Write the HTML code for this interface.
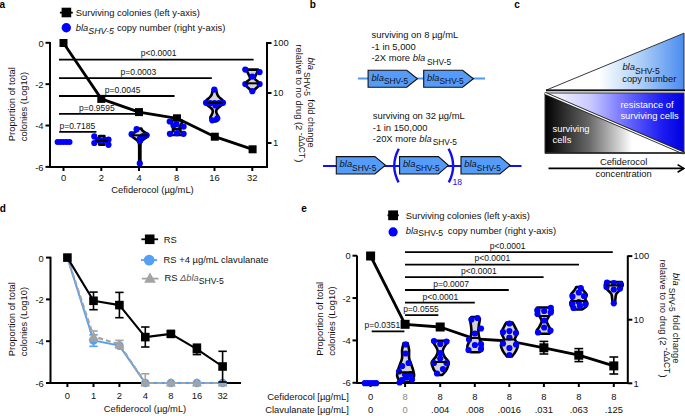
<!DOCTYPE html>
<html><head><meta charset="utf-8"><style>
html,body{margin:0;padding:0;background:#fff;}
svg{display:block;font-family:"Liberation Sans",sans-serif;}
</style></head><body>
<svg width="685" height="416" viewBox="0 0 685 416">
<rect width="685" height="416" fill="#fff"/>
<text x="-0.4" y="7.8" font-size="10" font-weight="bold" fill="#000">a</text>
<text x="309.8" y="8.4" font-size="10" font-weight="bold" fill="#000">b</text>
<text x="514.2" y="7.9" font-size="10" font-weight="bold" fill="#000">c</text>
<text x="-0.2" y="212.2" font-size="10" font-weight="bold" fill="#000">d</text>
<text x="301.2" y="212.2" font-size="10" font-weight="bold" fill="#000">e</text>
<path d="M50,42 V167 H267 V42" fill="none" stroke="#000" stroke-width="2"/>
<line x1="45.5" y1="42.8" x2="50" y2="42.8" stroke="#000" stroke-width="2" />
<text x="43.6" y="46.699999999999996" font-size="9.4" text-anchor="end" fill="#111" >0</text>
<line x1="45.5" y1="84.16" x2="50" y2="84.16" stroke="#000" stroke-width="2" />
<text x="43.6" y="88.06" font-size="9.4" text-anchor="end" fill="#111" >-2</text>
<line x1="45.5" y1="125.52" x2="50" y2="125.52" stroke="#000" stroke-width="2" />
<text x="43.6" y="129.42" font-size="9.4" text-anchor="end" fill="#111" >-4</text>
<line x1="45.5" y1="166.88" x2="50" y2="166.88" stroke="#000" stroke-width="2" />
<text x="43.6" y="170.78" font-size="9.4" text-anchor="end" fill="#111" >-6</text>
<line x1="63.5" y1="167" x2="63.5" y2="171" stroke="#000" stroke-width="2" />
<text x="63.5" y="180.6" font-size="9.4" text-anchor="middle" fill="#111" >0</text>
<line x1="101.3" y1="167" x2="101.3" y2="171" stroke="#000" stroke-width="2" />
<text x="101.3" y="180.6" font-size="9.4" text-anchor="middle" fill="#111" >2</text>
<line x1="139.0" y1="167" x2="139.0" y2="171" stroke="#000" stroke-width="2" />
<text x="139.0" y="180.6" font-size="9.4" text-anchor="middle" fill="#111" >4</text>
<line x1="176.7" y1="167" x2="176.7" y2="171" stroke="#000" stroke-width="2" />
<text x="176.7" y="180.6" font-size="9.4" text-anchor="middle" fill="#111" >8</text>
<line x1="214.5" y1="167" x2="214.5" y2="171" stroke="#000" stroke-width="2" />
<text x="214.5" y="180.6" font-size="9.4" text-anchor="middle" fill="#111" >16</text>
<line x1="252.3" y1="167" x2="252.3" y2="171" stroke="#000" stroke-width="2" />
<text x="252.3" y="180.6" font-size="9.4" text-anchor="middle" fill="#111" >32</text>
<text x="152.5" y="193.4" font-size="9.4" text-anchor="middle" fill="#111" >Cefiderocol (µg/mL)</text>
<line x1="267" y1="43.0" x2="271.5" y2="43.0" stroke="#000" stroke-width="2" />
<text x="273" y="46.3" font-size="9.4" text-anchor="start" fill="#111" >100</text>
<line x1="267" y1="93.0" x2="271.5" y2="93.0" stroke="#000" stroke-width="2" />
<text x="273" y="96.3" font-size="9.4" text-anchor="start" fill="#111" >10</text>
<line x1="267" y1="143.0" x2="271.5" y2="143.0" stroke="#000" stroke-width="2" />
<text x="273" y="146.3" font-size="9.4" text-anchor="start" fill="#111" >1</text>
<text transform="translate(15.2,141.2) rotate(-90)" font-size="9.4" fill="#111">Proportion of total</text>
<text transform="translate(27.1,141.2) rotate(-90)" font-size="9.4" fill="#111">colonies (Log10)</text>
<text transform="translate(308.4,102.6) rotate(90)" font-size="9.4" fill="#111" text-anchor="middle"><tspan font-style="italic">bla</tspan><tspan dy="3.9" dx="2" font-size="8.3">SHV-5</tspan><tspan dy="-3.9" dx="0.8"> fold change</tspan></text>
<text transform="translate(295.6,103.4) rotate(90)" font-size="9.4" fill="#111" text-anchor="middle">relative to no drug (2<tspan dy="-3.3" font-size="8.5"> -ΔΔCT</tspan><tspan dy="3.3" dx="1.2">)</tspan></text>
<line x1="59.9" y1="12.6" x2="72.8" y2="12.6" stroke="#000" stroke-width="1.8" />
<rect x="61.60000000000001" y="7.7" width="9.6" height="9.6" fill="#000"/>
<text x="75.8" y="16.2" font-size="9.4" text-anchor="start" fill="#111" >Surviving colonies (left y-axis)</text>
<circle cx="66.3" cy="27.8" r="4.7" fill="#0000ff"/>
<text x="75.8" y="30.7" font-size="9.4" fill="#111"><tspan font-style="italic">bla</tspan><tspan dy="3" font-size="8.799999999999999" font-style="italic">SHV-5</tspan><tspan dy="-3" dx="0.4"> copy number (right y-axis)</tspan></text>
<line x1="59.0" y1="59.7" x2="253.6" y2="59.7" stroke="#000" stroke-width="1.8" />
<text x="158.7" y="55.9" font-size="8.5" text-anchor="middle" fill="#111" >p&lt;0.0001</text>
<line x1="59.0" y1="78.2" x2="211.8" y2="78.2" stroke="#000" stroke-width="1.8" />
<text x="138.4" y="74.6" font-size="8.5" text-anchor="middle" fill="#111" >p=0.0003</text>
<line x1="59.0" y1="96.0" x2="174.6" y2="96.0" stroke="#000" stroke-width="1.8" />
<text x="122.6" y="92.5" font-size="8.5" text-anchor="middle" fill="#111" >p=0.0045</text>
<line x1="59.0" y1="113.9" x2="138.5" y2="113.9" stroke="#000" stroke-width="1.8" />
<text x="96.9" y="110.9" font-size="8.5" text-anchor="middle" fill="#111" >p=0.9595</text>
<line x1="59.2" y1="131.8" x2="96.4" y2="131.8" stroke="#000" stroke-width="1.8" />
<text x="77.3" y="129.1" font-size="8.5" text-anchor="middle" fill="#111" >p=0.7185</text>
<circle cx="57.6" cy="141.9" r="3.0" fill="#0000ff"/>
<circle cx="60.5" cy="141.9" r="3.0" fill="#0000ff"/>
<circle cx="63.5" cy="141.9" r="3.0" fill="#0000ff"/>
<circle cx="66.5" cy="141.9" r="3.0" fill="#0000ff"/>
<circle cx="69.5" cy="141.9" r="3.0" fill="#0000ff"/>
<path d="M99.20,136.00 L104.40,136.00 C104.37,136.25 104.38,136.70 104.20,137.50 C104.02,138.30 103.30,139.88 103.30,140.80 C103.30,141.72 104.02,142.37 104.20,143.00 C104.38,143.63 104.37,144.33 104.40,144.60 L99.20,144.60 C99.23,144.33 99.22,143.63 99.40,143.00 C99.58,142.37 100.30,141.72 100.30,140.80 C100.30,139.88 99.58,138.30 99.40,137.50 C99.22,136.70 99.23,136.25 99.20,136.00Z" fill="#d4d4d4" stroke="#000" stroke-width="2.6" stroke-linejoin="round"/>
<circle cx="94.3" cy="136.4" r="3.1" fill="#0000ff"/>
<circle cx="94.3" cy="143.0" r="3.1" fill="#0000ff"/>
<circle cx="108.5" cy="139.7" r="3.1" fill="#0000ff"/>
<circle cx="108.5" cy="144.8" r="3.1" fill="#0000ff"/>
<circle cx="97.6" cy="140.2" r="3.1" fill="#0000ff"/>
<circle cx="101.6" cy="140.6" r="3.1" fill="#0000ff"/>
<circle cx="105.4" cy="140.2" r="3.1" fill="#0000ff"/>
<line x1="95.3" y1="140.8" x2="108.3" y2="140.8" stroke="#000" stroke-width="2.0" />
<path d="M138.20,128.60 L141.40,128.60 C141.57,128.92 141.75,129.85 142.40,130.50 C143.05,131.15 144.35,131.83 145.30,132.50 C146.25,133.17 147.72,133.87 148.10,134.50 C148.48,135.13 148.15,135.63 147.60,136.30 C147.05,136.97 145.73,137.72 144.80,138.50 C143.87,139.28 142.70,140.17 142.00,141.00 C141.30,141.83 140.87,142.00 140.60,143.50 C140.33,145.00 140.43,147.25 140.40,150.00 C140.37,152.75 140.40,157.75 140.40,160.00 C140.40,162.25 140.40,162.92 140.40,163.50 L139.20,163.50 C139.20,162.92 139.20,162.25 139.20,160.00 C139.20,157.75 139.23,152.75 139.20,150.00 C139.17,147.25 139.27,145.00 139.00,143.50 C138.73,142.00 138.30,141.83 137.60,141.00 C136.90,140.17 135.73,139.28 134.80,138.50 C133.87,137.72 132.55,136.97 132.00,136.30 C131.45,135.63 131.12,135.13 131.50,134.50 C131.88,133.87 133.35,133.17 134.30,132.50 C135.25,131.83 136.55,131.15 137.20,130.50 C137.85,129.85 138.03,128.92 138.20,128.60Z" fill="#d4d4d4" stroke="#000" stroke-width="2.6" stroke-linejoin="round"/>
<circle cx="136.6" cy="129.2" r="3.1" fill="#0000ff"/>
<circle cx="131.6" cy="134.2" r="3.1" fill="#0000ff"/>
<circle cx="146.6" cy="135.3" r="3.1" fill="#0000ff"/>
<circle cx="139.9" cy="138.6" r="3.1" fill="#0000ff"/>
<circle cx="139.9" cy="141.0" r="3.1" fill="#0000ff"/>
<circle cx="143.0" cy="136.0" r="3.1" fill="#0000ff"/>
<circle cx="139.8" cy="163.4" r="3.1" fill="#0000ff"/>
<line x1="131.3" y1="135.3" x2="148.3" y2="135.3" stroke="#000" stroke-width="2.0" />
<path d="M63.5,43.0 L101.3,98.9 L139.0,112.1 L177.0,118.3 L214.8,136.7 L252.6,149.3" fill="none" stroke="#000" stroke-width="2.8" stroke-linejoin="round"/>
<rect x="59.5" y="39.0" width="8" height="8" fill="#000"/>
<rect x="97.3" y="94.9" width="8" height="8" fill="#000"/>
<rect x="135.0" y="108.1" width="8" height="8" fill="#000"/>
<rect x="173.0" y="114.3" width="8" height="8" fill="#000"/>
<rect x="210.8" y="132.7" width="8" height="8" fill="#000"/>
<rect x="248.6" y="145.3" width="8" height="8" fill="#000"/>
<path d="M171.70,120.50 L181.70,120.50 C181.70,121.00 182.03,122.42 181.70,123.50 C181.37,124.58 180.03,125.92 179.70,127.00 C179.37,128.08 179.28,129.00 179.70,130.00 C180.12,131.00 181.70,132.17 182.20,133.00 C182.70,133.83 182.62,134.67 182.70,135.00 L170.70,135.00 C170.78,134.67 170.70,133.83 171.20,133.00 C171.70,132.17 173.28,131.00 173.70,130.00 C174.12,129.00 174.03,128.08 173.70,127.00 C173.37,125.92 172.03,124.58 171.70,123.50 C171.37,122.42 171.70,121.00 171.70,120.50Z" fill="#d4d4d4" stroke="#000" stroke-width="2.6" stroke-linejoin="round"/>
<circle cx="169.7" cy="121.5" r="3.1" fill="#0000ff"/>
<circle cx="176.5" cy="124.2" r="3.1" fill="#0000ff"/>
<circle cx="183.6" cy="126.6" r="3.1" fill="#0000ff"/>
<circle cx="169.9" cy="133.8" r="3.1" fill="#0000ff"/>
<circle cx="183.6" cy="133.8" r="3.1" fill="#0000ff"/>
<circle cx="177.0" cy="133.2" r="3.1" fill="#0000ff"/>
<circle cx="173.5" cy="125.5" r="3.1" fill="#0000ff"/>
<line x1="171.7" y1="129.0" x2="181.7" y2="129.0" stroke="#000" stroke-width="2.0" />
<path d="M213.00,89.50 L216.00,89.50 C216.12,89.92 216.48,91.17 216.70,92.00 C216.92,92.83 216.92,93.67 217.30,94.50 C217.68,95.33 218.33,96.25 219.00,97.00 C219.67,97.75 220.62,98.33 221.30,99.00 C221.98,99.67 222.70,100.40 223.10,101.00 C223.50,101.60 223.80,102.02 223.70,102.60 C223.60,103.18 223.12,103.85 222.50,104.50 C221.88,105.15 220.83,105.83 220.00,106.50 C219.17,107.17 218.12,107.83 217.50,108.50 C216.88,109.17 216.47,109.75 216.30,110.50 C216.13,111.25 216.27,112.17 216.50,113.00 C216.73,113.83 217.33,114.67 217.70,115.50 C218.07,116.33 218.73,117.17 218.70,118.00 C218.67,118.83 218.03,119.92 217.50,120.50 C216.97,121.08 215.83,121.33 215.50,121.50 L213.50,121.50 C213.17,121.33 212.03,121.08 211.50,120.50 C210.97,119.92 210.33,118.83 210.30,118.00 C210.27,117.17 210.93,116.33 211.30,115.50 C211.67,114.67 212.27,113.83 212.50,113.00 C212.73,112.17 212.87,111.25 212.70,110.50 C212.53,109.75 212.12,109.17 211.50,108.50 C210.88,107.83 209.83,107.17 209.00,106.50 C208.17,105.83 207.12,105.15 206.50,104.50 C205.88,103.85 205.40,103.18 205.30,102.60 C205.20,102.02 205.50,101.60 205.90,101.00 C206.30,100.40 207.02,99.67 207.70,99.00 C208.38,98.33 209.33,97.75 210.00,97.00 C210.67,96.25 211.32,95.33 211.70,94.50 C212.08,93.67 212.08,92.83 212.30,92.00 C212.52,91.17 212.88,89.92 213.00,89.50Z" fill="#d4d4d4" stroke="#000" stroke-width="2.6" stroke-linejoin="round"/>
<circle cx="214.3" cy="89.6" r="3.1" fill="#0000ff"/>
<circle cx="206.0" cy="102.8" r="3.1" fill="#0000ff"/>
<circle cx="210.0" cy="103.2" r="3.1" fill="#0000ff"/>
<circle cx="214.5" cy="103.2" r="3.1" fill="#0000ff"/>
<circle cx="219.0" cy="103.2" r="3.1" fill="#0000ff"/>
<circle cx="223.0" cy="102.8" r="3.1" fill="#0000ff"/>
<circle cx="215.5" cy="105.5" r="3.1" fill="#0000ff"/>
<circle cx="212.3" cy="120.3" r="3.1" fill="#0000ff"/>
<circle cx="217.3" cy="118.3" r="3.1" fill="#0000ff"/>
<line x1="206.5" y1="102.8" x2="222.5" y2="102.8" stroke="#000" stroke-width="2.0" />
<path d="M246.90,69.60 L257.90,69.60 C257.82,70.00 257.82,70.93 257.40,72.00 C256.98,73.07 255.82,74.83 255.40,76.00 C254.98,77.17 254.40,78.00 254.90,79.00 C255.40,80.00 257.57,81.08 258.40,82.00 C259.23,82.92 260.15,83.58 259.90,84.50 C259.65,85.42 258.02,86.38 256.90,87.50 C255.78,88.62 253.82,90.58 253.20,91.20 L251.60,91.20 C250.98,90.58 249.02,88.62 247.90,87.50 C246.78,86.38 245.15,85.42 244.90,84.50 C244.65,83.58 245.57,82.92 246.40,82.00 C247.23,81.08 249.40,80.00 249.90,79.00 C250.40,78.00 249.82,77.17 249.40,76.00 C248.98,74.83 247.82,73.07 247.40,72.00 C246.98,70.93 246.98,70.00 246.90,69.60Z" fill="#d4d4d4" stroke="#000" stroke-width="2.6" stroke-linejoin="round"/>
<circle cx="245.3" cy="69.6" r="3.1" fill="#0000ff"/>
<circle cx="259.6" cy="72.1" r="3.1" fill="#0000ff"/>
<circle cx="252.3" cy="76.6" r="3.1" fill="#0000ff"/>
<circle cx="245.3" cy="84.0" r="3.1" fill="#0000ff"/>
<circle cx="259.6" cy="84.0" r="3.1" fill="#0000ff"/>
<circle cx="252.3" cy="91.2" r="3.1" fill="#0000ff"/>
<line x1="245.4" y1="83.3" x2="259.4" y2="83.3" stroke="#000" stroke-width="2.0" />
<text x="371.5" y="38.0" font-size="9.4" text-anchor="start" fill="#111" >surviving on 8 µg/mL</text>
<text x="371.5" y="49.9" font-size="9.4" text-anchor="start" fill="#111" >-1 in 5,000</text>
<text x="371.5" y="61.0" font-size="9.4" fill="#111">-2X more <tspan font-style="italic">bla</tspan><tspan dy="3.8" font-size="8.399999999999999" dx="1.8">SHV-5</tspan></text>
<line x1="358" y1="78.6" x2="485" y2="78.6" stroke="#4f97ef" stroke-width="2.0" />
<path d="M368.1,70.2 H406.8 L417.4,78.7 L406.8,87.2 H368.1 Z" fill="#559cfa" stroke="#111" stroke-width="1.1" stroke-linejoin="miter"/>
<text x="371.40000000000003" y="80.7" font-size="9.4" fill="#111"><tspan font-style="italic">bla</tspan><tspan dy="3.4" font-size="8.399999999999999">SHV-5</tspan></text>
<path d="M423.7,70.2 H462.6 L473.4,78.7 L462.6,87.2 H423.7 Z" fill="#559cfa" stroke="#111" stroke-width="1.1" stroke-linejoin="miter"/>
<text x="427.0" y="80.7" font-size="9.4" fill="#111"><tspan font-style="italic">bla</tspan><tspan dy="3.4" font-size="8.399999999999999">SHV-5</tspan></text>
<text x="372.8" y="118.9" font-size="9.4" text-anchor="start" fill="#111" >surviving on 32 µg/mL</text>
<text x="372.8" y="130.6" font-size="9.4" text-anchor="start" fill="#111" >-1 in 150,000</text>
<text x="372.8" y="141.8" font-size="9.4" fill="#111">-20X more <tspan font-style="italic">bla</tspan><tspan dy="3.6" font-size="8.399999999999999" dx="1.0">SHV-5</tspan></text>
<line x1="323" y1="166.1" x2="521.5" y2="166.1" stroke="#1010f5" stroke-width="2.0" />
<path d="M336.3,156.6 H374.9 L385.5,165.3 L374.9,174.0 H336.3 Z" fill="#559cfa" stroke="#111" stroke-width="1.1" stroke-linejoin="miter"/>
<text x="339.6" y="167.3" font-size="9.4" fill="#111"><tspan font-style="italic">bla</tspan><tspan dy="3.4" font-size="8.399999999999999">SHV-5</tspan></text>
<path d="M399.6,156.6 H438.4 L448.4,165.3 L438.4,174.0 H399.6 Z" fill="#559cfa" stroke="#111" stroke-width="1.1" stroke-linejoin="miter"/>
<text x="402.90000000000003" y="167.3" font-size="9.4" fill="#111"><tspan font-style="italic">bla</tspan><tspan dy="3.4" font-size="8.399999999999999">SHV-5</tspan></text>
<path d="M461.0,156.6 H499.8 L510.2,165.3 L499.8,174.0 H461.0 Z" fill="#559cfa" stroke="#111" stroke-width="1.1" stroke-linejoin="miter"/>
<text x="464.3" y="167.3" font-size="9.4" fill="#111"><tspan font-style="italic">bla</tspan><tspan dy="3.4" font-size="8.399999999999999">SHV-5</tspan></text>
<path d="M398.8,148.8 Q389.8,165.6 398.6,182.4" fill="none" stroke="#1010f0" stroke-width="2.4"/>
<path d="M448.6,148.8 Q457.6,165.6 448.8,182.4" fill="none" stroke="#1010f0" stroke-width="2.4"/>
<text x="452.6" y="185.4" font-size="8.6" text-anchor="start" fill="#1515e6" >18</text>
<defs>
<linearGradient id="gtop" x1="546" y1="0" x2="684" y2="0" gradientUnits="userSpaceOnUse">
<stop offset="0" stop-color="#ffffff"/><stop offset="0.38" stop-color="#ffffff"/><stop offset="0.7" stop-color="#aaccf6"/><stop offset="1" stop-color="#4a8cf0"/></linearGradient>
<linearGradient id="gblue" x1="545" y1="0" x2="684" y2="0" gradientUnits="userSpaceOnUse">
<stop offset="0" stop-color="#ffffff"/><stop offset="0.33" stop-color="#c8c8ff"/><stop offset="0.6" stop-color="#6666ff"/><stop offset="0.85" stop-color="#1a1af0"/><stop offset="1" stop-color="#0000e0"/></linearGradient>
<linearGradient id="gblack" x1="545" y1="0" x2="632" y2="0" gradientUnits="userSpaceOnUse">
<stop offset="0" stop-color="#000000"/><stop offset="0.5" stop-color="#666666"/><stop offset="1" stop-color="#ffffff"/></linearGradient>
</defs>
<path d="M546,90.2 L684,33.2 L684,90.2 Z" fill="url(#gtop)" stroke="#222" stroke-width="0.9"/>
<line x1="546" y1="90.4" x2="685" y2="90.4" stroke="#111" stroke-width="1.6" />
<text x="622.4" y="70.3" font-size="9.4" text-anchor="start" fill="#111"><tspan font-style="italic">bla</tspan><tspan dy="3.6" font-size="8.6">SHV-5</tspan><tspan dy="-3.6"></tspan></text>
<text x="622.2" y="82.4" font-size="9.4" text-anchor="start" fill="#111" >copy number</text>
<path d="M545,93 L684,93 L684,153 Z" fill="url(#gblue)"/>
<path d="M545,93 L684,153 L545,153 Z" fill="url(#gblack)"/>
<rect x="545" y="93" width="139" height="60" fill="none" stroke="#333" stroke-width="1.0"/>
<line x1="545" y1="93.4" x2="684" y2="153.2" stroke="#222" stroke-width="3.0" />
<line x1="545" y1="93.4" x2="684" y2="153.2" stroke="#fff" stroke-width="1.2" />
<line x1="545" y1="153" x2="685" y2="153" stroke="#222" stroke-width="1.3" />
<text x="620.4" y="107.9" font-size="9.4" text-anchor="start" fill="#fff" >resistance of</text>
<text x="620.4" y="119.3" font-size="9.4" text-anchor="start" fill="#fff" >surviving cells</text>
<text x="552.6" y="131.6" font-size="9.4" text-anchor="start" fill="#fff" >surviving</text>
<text x="552.6" y="143.2" font-size="9.4" text-anchor="start" fill="#fff" >cells</text>
<line x1="548.5" y1="168.4" x2="683.5" y2="168.4" stroke="#000" stroke-width="1.7" />
<path d="M677.6,164.6 L683.8,168.4 L677.6,172.2" fill="none" stroke="#000" stroke-width="1.7"/>
<text x="623.6" y="165.2" font-size="9.4" text-anchor="middle" fill="#111" >Cefiderocol</text>
<text x="623.6" y="176.5" font-size="9.4" text-anchor="middle" fill="#111" >concentration</text>
<path d="M50.5,256.8 V383.0 H241.0" fill="none" stroke="#000" stroke-width="2"/>
<line x1="46.0" y1="257.6" x2="50.5" y2="257.6" stroke="#000" stroke-width="2" />
<text x="43.8" y="261.5" font-size="9.4" text-anchor="end" fill="#111" >0</text>
<line x1="46.0" y1="299.40000000000003" x2="50.5" y2="299.40000000000003" stroke="#000" stroke-width="2" />
<text x="43.8" y="303.3" font-size="9.4" text-anchor="end" fill="#111" >-2</text>
<line x1="46.0" y1="341.20000000000005" x2="50.5" y2="341.20000000000005" stroke="#000" stroke-width="2" />
<text x="43.8" y="345.1" font-size="9.4" text-anchor="end" fill="#111" >-4</text>
<line x1="46.0" y1="383.0" x2="50.5" y2="383.0" stroke="#000" stroke-width="2" />
<text x="43.8" y="386.9" font-size="9.4" text-anchor="end" fill="#111" >-6</text>
<line x1="67.4" y1="383.0" x2="67.4" y2="387.0" stroke="#000" stroke-width="2" />
<text x="67.4" y="399.2" font-size="9.4" text-anchor="middle" fill="#111" >0</text>
<line x1="93.5" y1="383.0" x2="93.5" y2="387.0" stroke="#000" stroke-width="2" />
<text x="93.5" y="399.2" font-size="9.4" text-anchor="middle" fill="#111" >1</text>
<line x1="119.4" y1="383.0" x2="119.4" y2="387.0" stroke="#000" stroke-width="2" />
<text x="119.4" y="399.2" font-size="9.4" text-anchor="middle" fill="#111" >2</text>
<line x1="145.3" y1="383.0" x2="145.3" y2="387.0" stroke="#000" stroke-width="2" />
<text x="145.3" y="399.2" font-size="9.4" text-anchor="middle" fill="#111" >4</text>
<line x1="170.9" y1="383.0" x2="170.9" y2="387.0" stroke="#000" stroke-width="2" />
<text x="170.9" y="399.2" font-size="9.4" text-anchor="middle" fill="#111" >8</text>
<line x1="196.9" y1="383.0" x2="196.9" y2="387.0" stroke="#000" stroke-width="2" />
<text x="196.9" y="399.2" font-size="9.4" text-anchor="middle" fill="#111" >16</text>
<line x1="222.6" y1="383.0" x2="222.6" y2="387.0" stroke="#000" stroke-width="2" />
<text x="222.6" y="399.2" font-size="9.4" text-anchor="middle" fill="#111" >32</text>
<text x="145.0" y="412.2" font-size="9.4" text-anchor="middle" fill="#111" >Cefiderocol (µg/mL)</text>
<text transform="translate(15.4,356.2) rotate(-90)" font-size="9.4" fill="#111">Proportion of total</text>
<text transform="translate(27.3,356.2) rotate(-90)" font-size="9.4" fill="#111">colonies (Log10)</text>
<line x1="141.4" y1="239.3" x2="158.1" y2="239.3" stroke="#000" stroke-width="1.8" />
<rect x="144.89999999999998" y="234.5" width="9.6" height="9.6" fill="#000"/>
<text x="163.8" y="242.6" font-size="9.4" text-anchor="start" fill="#111" >RS</text>
<line x1="141.0" y1="260.1" x2="157.1" y2="260.1" stroke="#55a0f2" stroke-width="1.8" />
<circle cx="149.2" cy="260.1" r="5.4" fill="#55a0f2"/>
<text x="163.6" y="262.5" font-size="9.4" text-anchor="start" fill="#111" >RS +4 µg/mL clavulanate</text>
<line x1="141.8" y1="278.6" x2="158.5" y2="278.6" stroke="#a3a3a3" stroke-width="1.8" />
<path d="M150,272.6 L155.8,282.8 L144.2,282.8 Z" fill="#a3a3a3"/>
<text x="164.4" y="280.8" font-size="9.4" fill="#111">RS <tspan font-style="italic" fill="#555">Δbla</tspan><tspan dy="3.2" font-size="8.6">SHV-5</tspan></text>
<line x1="93.5" y1="334.8" x2="93.5" y2="346.3" stroke="#55a0f2" stroke-width="1.6" />
<line x1="89.3" y1="334.8" x2="97.7" y2="334.8" stroke="#55a0f2" stroke-width="1.6" />
<line x1="89.3" y1="346.3" x2="97.7" y2="346.3" stroke="#55a0f2" stroke-width="1.6" />
<path d="M67.4,257.6 L93.5,340.5 L119.4,345.6 L145.3,383.0 L170.9,383.0 L196.9,383.0 L222.6,383.0" fill="none" stroke="#55a0f2" stroke-width="2.0"/>
<circle cx="93.5" cy="340.5" r="4.3" fill="#55a0f2"/>
<circle cx="119.4" cy="345.6" r="4.3" fill="#55a0f2"/>
<circle cx="145.3" cy="383.0" r="4.3" fill="#55a0f2"/>
<circle cx="170.9" cy="383.0" r="4.3" fill="#55a0f2"/>
<circle cx="196.9" cy="383.0" r="4.3" fill="#55a0f2"/>
<circle cx="222.6" cy="383.0" r="4.3" fill="#55a0f2"/>
<line x1="93.5" y1="331.0" x2="93.5" y2="341.0" stroke="#a3a3a3" stroke-width="1.6" />
<line x1="89.3" y1="331.0" x2="97.7" y2="331.0" stroke="#a3a3a3" stroke-width="1.6" />
<line x1="89.3" y1="341.0" x2="97.7" y2="341.0" stroke="#a3a3a3" stroke-width="1.6" />
<line x1="119.4" y1="340.4" x2="119.4" y2="348.0" stroke="#a3a3a3" stroke-width="1.6" />
<line x1="115.2" y1="340.4" x2="123.60000000000001" y2="340.4" stroke="#a3a3a3" stroke-width="1.6" />
<line x1="115.2" y1="348.0" x2="123.60000000000001" y2="348.0" stroke="#a3a3a3" stroke-width="1.6" />
<line x1="145.3" y1="373.8" x2="145.3" y2="383.0" stroke="#a3a3a3" stroke-width="1.6" />
<line x1="141.10000000000002" y1="373.8" x2="149.5" y2="373.8" stroke="#a3a3a3" stroke-width="1.6" />
<line x1="141.10000000000002" y1="383.0" x2="149.5" y2="383.0" stroke="#a3a3a3" stroke-width="1.6" />
<path d="M67.4,257.6 L93.5,336.4 L119.4,344.4 L145.3,383.0 L170.9,383.0 L196.9,383.0 L222.6,383.0" fill="none" stroke="#a3a3a3" stroke-width="2.2" stroke-dasharray="5,3"/>
<path d="M93.5,331.4 L98.5,340.0 L88.5,340.0 Z" fill="#a3a3a3"/>
<path d="M119.4,339.4 L124.4,348.0 L114.4,348.0 Z" fill="#a3a3a3"/>
<path d="M145.3,378.0 L150.3,386.6 L140.3,386.6 Z" fill="#a3a3a3"/>
<path d="M170.9,378.0 L175.9,386.6 L165.9,386.6 Z" fill="#a3a3a3"/>
<path d="M196.9,378.0 L201.9,386.6 L191.9,386.6 Z" fill="#a3a3a3"/>
<path d="M222.6,378.0 L227.6,386.6 L217.6,386.6 Z" fill="#a3a3a3"/>
<line x1="93.5" y1="292.1" x2="93.5" y2="309.7" stroke="#000" stroke-width="1.6" />
<line x1="89.3" y1="292.1" x2="97.7" y2="292.1" stroke="#000" stroke-width="1.6" />
<line x1="89.3" y1="309.7" x2="97.7" y2="309.7" stroke="#000" stroke-width="1.6" />
<line x1="119.4" y1="292.4" x2="119.4" y2="317.7" stroke="#000" stroke-width="1.6" />
<line x1="115.2" y1="292.4" x2="123.60000000000001" y2="292.4" stroke="#000" stroke-width="1.6" />
<line x1="115.2" y1="317.7" x2="123.60000000000001" y2="317.7" stroke="#000" stroke-width="1.6" />
<line x1="145.3" y1="327.0" x2="145.3" y2="347.0" stroke="#000" stroke-width="1.6" />
<line x1="141.10000000000002" y1="327.0" x2="149.5" y2="327.0" stroke="#000" stroke-width="1.6" />
<line x1="141.10000000000002" y1="347.0" x2="149.5" y2="347.0" stroke="#000" stroke-width="1.6" />
<line x1="170.9" y1="331.6" x2="170.9" y2="336.4" stroke="#000" stroke-width="1.6" />
<line x1="166.70000000000002" y1="331.6" x2="175.1" y2="331.6" stroke="#000" stroke-width="1.6" />
<line x1="166.70000000000002" y1="336.4" x2="175.1" y2="336.4" stroke="#000" stroke-width="1.6" />
<line x1="196.9" y1="344.2" x2="196.9" y2="354.6" stroke="#000" stroke-width="1.6" />
<line x1="192.70000000000002" y1="344.2" x2="201.1" y2="344.2" stroke="#000" stroke-width="1.6" />
<line x1="192.70000000000002" y1="354.6" x2="201.1" y2="354.6" stroke="#000" stroke-width="1.6" />
<line x1="222.6" y1="351.3" x2="222.6" y2="382.0" stroke="#000" stroke-width="1.6" />
<line x1="218.4" y1="351.3" x2="226.79999999999998" y2="351.3" stroke="#000" stroke-width="1.6" />
<line x1="218.4" y1="382.0" x2="226.79999999999998" y2="382.0" stroke="#000" stroke-width="1.6" />
<path d="M67.4,257.6 L93.5,300.8 L119.4,305.1 L145.3,337.1 L170.9,333.9 L196.9,349.1 L222.6,366.5" fill="none" stroke="#000" stroke-width="2.1" stroke-linejoin="round"/>
<rect x="63.10000000000001" y="253.3" width="8.6" height="8.6" fill="#000"/>
<rect x="89.2" y="296.5" width="8.6" height="8.6" fill="#000"/>
<rect x="115.10000000000001" y="300.8" width="8.6" height="8.6" fill="#000"/>
<rect x="141.0" y="332.8" width="8.6" height="8.6" fill="#000"/>
<rect x="166.6" y="329.59999999999997" width="8.6" height="8.6" fill="#000"/>
<rect x="192.6" y="344.8" width="8.6" height="8.6" fill="#000"/>
<rect x="218.29999999999998" y="362.2" width="8.6" height="8.6" fill="#000"/>
<path d="M357.0,255.4 V383.0 H627.8 V255.4" fill="none" stroke="#000" stroke-width="2"/>
<line x1="352.5" y1="255.7" x2="357.0" y2="255.7" stroke="#000" stroke-width="2" />
<text x="350.8" y="259.3" font-size="9.4" text-anchor="end" fill="#111" >0</text>
<line x1="352.5" y1="298.06" x2="357.0" y2="298.06" stroke="#000" stroke-width="2" />
<text x="350.8" y="301.66" font-size="9.4" text-anchor="end" fill="#111" >-2</text>
<line x1="352.5" y1="340.41999999999996" x2="357.0" y2="340.41999999999996" stroke="#000" stroke-width="2" />
<text x="350.8" y="344.02" font-size="9.4" text-anchor="end" fill="#111" >-4</text>
<line x1="352.5" y1="382.78" x2="357.0" y2="382.78" stroke="#000" stroke-width="2" />
<text x="350.8" y="386.38" font-size="9.4" text-anchor="end" fill="#111" >-6</text>
<line x1="627.8" y1="256.1" x2="632.3" y2="256.1" stroke="#000" stroke-width="2" />
<text x="633.6" y="259.40000000000003" font-size="9.4" text-anchor="start" fill="#111" >100</text>
<line x1="627.8" y1="319.7" x2="632.3" y2="319.7" stroke="#000" stroke-width="2" />
<text x="633.6" y="323.0" font-size="9.4" text-anchor="start" fill="#111" >10</text>
<line x1="627.8" y1="383.3" x2="632.3" y2="383.3" stroke="#000" stroke-width="2" />
<text x="633.6" y="386.6" font-size="9.4" text-anchor="start" fill="#111" >1</text>
<line x1="370.6" y1="383.0" x2="370.6" y2="387.0" stroke="#000" stroke-width="2" />
<line x1="405.1" y1="383.0" x2="405.1" y2="387.0" stroke="#000" stroke-width="2" />
<line x1="440.2" y1="383.0" x2="440.2" y2="387.0" stroke="#000" stroke-width="2" />
<line x1="474.8" y1="383.0" x2="474.8" y2="387.0" stroke="#000" stroke-width="2" />
<line x1="509.3" y1="383.0" x2="509.3" y2="387.0" stroke="#000" stroke-width="2" />
<line x1="543.9" y1="383.0" x2="543.9" y2="387.0" stroke="#000" stroke-width="2" />
<line x1="578.8" y1="383.0" x2="578.8" y2="387.0" stroke="#000" stroke-width="2" />
<line x1="613.8" y1="383.0" x2="613.8" y2="387.0" stroke="#000" stroke-width="2" />
<text x="370.6" y="399.6" font-size="9.4" text-anchor="middle" fill="#111" >0</text>
<text x="370.6" y="413.4" font-size="9.4" text-anchor="middle" fill="#111" >0</text>
<text x="405.1" y="399.6" font-size="9.4" text-anchor="middle" fill="#888" >8</text>
<text x="405.1" y="413.4" font-size="9.4" text-anchor="middle" fill="#888" >0</text>
<text x="440.2" y="399.6" font-size="9.4" text-anchor="middle" fill="#111" >8</text>
<text x="440.2" y="413.4" font-size="9.4" text-anchor="middle" fill="#111" >.004</text>
<text x="474.8" y="399.6" font-size="9.4" text-anchor="middle" fill="#111" >8</text>
<text x="474.8" y="413.4" font-size="9.4" text-anchor="middle" fill="#111" >.008</text>
<text x="509.3" y="399.6" font-size="9.4" text-anchor="middle" fill="#111" >8</text>
<text x="509.3" y="413.4" font-size="9.4" text-anchor="middle" fill="#111" >.0016</text>
<text x="543.9" y="399.6" font-size="9.4" text-anchor="middle" fill="#111" >8</text>
<text x="543.9" y="413.4" font-size="9.4" text-anchor="middle" fill="#111" >.031</text>
<text x="578.8" y="399.6" font-size="9.4" text-anchor="middle" fill="#111" >8</text>
<text x="578.8" y="413.4" font-size="9.4" text-anchor="middle" fill="#111" >.063</text>
<text x="613.8" y="399.6" font-size="9.4" text-anchor="middle" fill="#111" >8</text>
<text x="613.8" y="413.4" font-size="9.4" text-anchor="middle" fill="#111" >.125</text>
<text x="348.8" y="399.6" font-size="9.4" text-anchor="end" fill="#111" >Cefiderocol [µg/mL]</text>
<text x="348.8" y="413.2" font-size="9.4" text-anchor="end" fill="#111" >Clavulanate [µg/mL]</text>
<text transform="translate(323.4,355.8) rotate(-90)" font-size="9.4" fill="#111">Proportion of total</text>
<text transform="translate(335.3,355.8) rotate(-90)" font-size="9.4" fill="#111">colonies (Log10)</text>
<text transform="translate(672.9,318.3) rotate(90)" font-size="9.4" fill="#111" text-anchor="middle"><tspan font-style="italic">bla</tspan><tspan dy="3.9" dx="2" font-size="8.3">SHV-5</tspan><tspan dy="-3.9" dx="0.8"> fold change</tspan></text>
<text transform="translate(660.4,318.5) rotate(90)" font-size="9.4" fill="#111" text-anchor="middle">relative to no drug (2<tspan dy="-3.3" font-size="8.5"> -ΔΔCT</tspan><tspan dy="3.3" dx="1.2">)</tspan></text>
<line x1="387.5" y1="215.3" x2="398.8" y2="215.3" stroke="#000" stroke-width="1.8" />
<rect x="388.20000000000005" y="210.4" width="9.8" height="9.8" fill="#000"/>
<text x="405.8" y="218.8" font-size="9.4" text-anchor="start" fill="#111" >Surviving colonies (left y-axis)</text>
<circle cx="393.1" cy="231.9" r="4.6" fill="#0000ff"/>
<text x="405.8" y="233.6" font-size="9.4" fill="#111"><tspan font-style="italic">bla</tspan><tspan dy="2.4" font-size="8.6">SHV-5</tspan><tspan dy="-2.4" dx="2.0"> copy number (right y-axis)</tspan></text>
<line x1="405.0" y1="252.2" x2="612.8" y2="252.2" stroke="#000" stroke-width="1.8" />
<text x="507.6" y="248.9" font-size="8.5" text-anchor="middle" fill="#111" >p&lt;0.0001</text>
<line x1="405.0" y1="264.7" x2="579.0" y2="264.7" stroke="#000" stroke-width="1.8" />
<text x="492.4" y="261.4" font-size="8.5" text-anchor="middle" fill="#111" >p&lt;0.0001</text>
<line x1="405.0" y1="277.2" x2="543.6" y2="277.2" stroke="#000" stroke-width="1.8" />
<text x="478.8" y="274.1" font-size="8.5" text-anchor="middle" fill="#111" >p&lt;0.0001</text>
<line x1="405.0" y1="290.0" x2="508.8" y2="290.0" stroke="#000" stroke-width="1.8" />
<text x="451.2" y="287.0" font-size="8.5" text-anchor="middle" fill="#111" >p=0.0007</text>
<line x1="405.0" y1="302.6" x2="474.8" y2="302.6" stroke="#000" stroke-width="1.8" />
<text x="440.4" y="299.5" font-size="8.5" text-anchor="middle" fill="#111" >p&lt;0.0001</text>
<line x1="405.0" y1="315.1" x2="438.3" y2="315.1" stroke="#000" stroke-width="1.8" />
<text x="421.0" y="312.0" font-size="8.5" text-anchor="middle" fill="#111" >p=0.0555</text>
<line x1="371.7" y1="331.3" x2="404.4" y2="331.3" stroke="#000" stroke-width="1.8" />
<text x="382.4" y="327.7" font-size="8.5" text-anchor="middle" fill="#111" >p=0.0351</text>
<circle cx="364.8" cy="383.2" r="3.1" fill="#0000ff"/>
<circle cx="367.8" cy="383.2" r="3.1" fill="#0000ff"/>
<circle cx="370.8" cy="383.2" r="3.1" fill="#0000ff"/>
<circle cx="373.8" cy="383.2" r="3.1" fill="#0000ff"/>
<circle cx="376.2" cy="383.2" r="3.1" fill="#0000ff"/>
<path d="M403.60,343.00 L407.60,343.00 C407.85,344.17 408.85,347.50 409.10,350.00 C409.35,352.50 408.77,355.67 409.10,358.00 C409.43,360.33 410.43,362.00 411.10,364.00 C411.77,366.00 412.60,368.00 413.10,370.00 C413.60,372.00 414.35,374.25 414.10,376.00 C413.85,377.75 412.52,379.50 411.60,380.50 C410.68,381.50 409.10,381.75 408.60,382.00 L402.60,382.00 C402.10,381.75 400.52,381.50 399.60,380.50 C398.68,379.50 397.35,377.75 397.10,376.00 C396.85,374.25 397.60,372.00 398.10,370.00 C398.60,368.00 399.43,366.00 400.10,364.00 C400.77,362.00 401.77,360.33 402.10,358.00 C402.43,355.67 401.85,352.50 402.10,350.00 C402.35,347.50 403.35,344.17 403.60,343.00Z" fill="#d4d4d4" stroke="#000" stroke-width="2.6" stroke-linejoin="round"/>
<circle cx="405.6" cy="344.5" r="3.1" fill="#0000ff"/>
<circle cx="405.6" cy="353.5" r="3.1" fill="#0000ff"/>
<circle cx="408.6" cy="363.0" r="3.1" fill="#0000ff"/>
<circle cx="402.2" cy="366.0" r="3.1" fill="#0000ff"/>
<circle cx="399.0" cy="371.5" r="3.1" fill="#0000ff"/>
<circle cx="405.0" cy="374.5" r="3.1" fill="#0000ff"/>
<circle cx="410.5" cy="374.0" r="3.1" fill="#0000ff"/>
<circle cx="402.0" cy="380.0" r="3.1" fill="#0000ff"/>
<circle cx="412.0" cy="379.5" r="3.1" fill="#0000ff"/>
<circle cx="399.6" cy="382.5" r="3.1" fill="#0000ff"/>
<circle cx="406.5" cy="377.5" r="3.1" fill="#0000ff"/>
<line x1="398.1" y1="372.3" x2="413.1" y2="372.3" stroke="#000" stroke-width="2.0" />
<line x1="543.9" y1="341.4" x2="543.9" y2="354.0" stroke="#000" stroke-width="1.6" />
<line x1="539.5" y1="341.4" x2="548.3" y2="341.4" stroke="#000" stroke-width="1.6" />
<line x1="539.5" y1="354.0" x2="548.3" y2="354.0" stroke="#000" stroke-width="1.6" />
<line x1="578.8" y1="348.6" x2="578.8" y2="361.6" stroke="#000" stroke-width="1.6" />
<line x1="574.4" y1="348.6" x2="583.1999999999999" y2="348.6" stroke="#000" stroke-width="1.6" />
<line x1="574.4" y1="361.6" x2="583.1999999999999" y2="361.6" stroke="#000" stroke-width="1.6" />
<line x1="613.8" y1="357.0" x2="613.8" y2="374.0" stroke="#000" stroke-width="1.6" />
<line x1="609.4" y1="357.0" x2="618.1999999999999" y2="357.0" stroke="#000" stroke-width="1.6" />
<line x1="609.4" y1="374.0" x2="618.1999999999999" y2="374.0" stroke="#000" stroke-width="1.6" />
<path d="M370.6,256.0 L405.1,324.3 L440.2,327.0 L474.8,338.8 L509.3,341.0 L543.9,347.8 L578.8,355.2 L613.8,365.9" fill="none" stroke="#000" stroke-width="2.8" stroke-linejoin="round"/>
<rect x="366.1" y="251.5" width="9.0" height="9.0" fill="#000"/>
<rect x="400.6" y="319.8" width="9.0" height="9.0" fill="#000"/>
<rect x="435.7" y="322.5" width="9.0" height="9.0" fill="#000"/>
<rect x="539.4" y="343.3" width="9.0" height="9.0" fill="#000"/>
<rect x="574.3" y="350.7" width="9.0" height="9.0" fill="#000"/>
<rect x="609.3" y="361.4" width="9.0" height="9.0" fill="#000"/>
<path d="M432.20,340.80 L448.20,340.80 C447.87,341.33 446.95,342.80 446.20,344.00 C445.45,345.20 444.28,346.67 443.70,348.00 C443.12,349.33 442.53,350.50 442.70,352.00 C442.87,353.50 443.70,355.33 444.70,357.00 C445.70,358.67 448.20,360.33 448.70,362.00 C449.20,363.67 448.20,365.50 447.70,367.00 C447.20,368.50 446.62,369.67 445.70,371.00 C444.78,372.33 442.78,374.33 442.20,375.00 L438.20,375.00 C437.62,374.33 435.62,372.33 434.70,371.00 C433.78,369.67 433.20,368.50 432.70,367.00 C432.20,365.50 431.20,363.67 431.70,362.00 C432.20,360.33 434.70,358.67 435.70,357.00 C436.70,355.33 437.53,353.50 437.70,352.00 C437.87,350.50 437.28,349.33 436.70,348.00 C436.12,346.67 434.95,345.20 434.20,344.00 C433.45,342.80 432.53,341.33 432.20,340.80Z" fill="#d4d4d4" stroke="#000" stroke-width="2.6" stroke-linejoin="round"/>
<circle cx="434.0" cy="341.0" r="3.1" fill="#0000ff"/>
<circle cx="440.2" cy="344.0" r="3.1" fill="#0000ff"/>
<circle cx="446.5" cy="341.5" r="3.1" fill="#0000ff"/>
<circle cx="440.2" cy="353.0" r="3.1" fill="#0000ff"/>
<circle cx="434.0" cy="363.0" r="3.1" fill="#0000ff"/>
<circle cx="446.5" cy="363.0" r="3.1" fill="#0000ff"/>
<circle cx="443.0" cy="369.0" r="3.1" fill="#0000ff"/>
<circle cx="437.0" cy="373.5" r="3.1" fill="#0000ff"/>
<circle cx="440.2" cy="358.5" r="3.1" fill="#0000ff"/>
<line x1="433.2" y1="362.0" x2="447.2" y2="362.0" stroke="#000" stroke-width="2.0" />
<path d="M471.40,317.00 L478.40,317.00 C478.65,317.33 479.82,317.67 479.90,319.00 C479.98,320.33 479.15,322.83 478.90,325.00 C478.65,327.17 478.23,329.50 478.40,332.00 C478.57,334.50 479.23,337.67 479.90,340.00 C480.57,342.33 482.07,344.25 482.40,346.00 C482.73,347.75 482.48,349.47 481.90,350.50 C481.32,351.53 479.40,351.92 478.90,352.20 L470.90,352.20 C470.40,351.92 468.48,351.53 467.90,350.50 C467.32,349.47 467.07,347.75 467.40,346.00 C467.73,344.25 469.23,342.33 469.90,340.00 C470.57,337.67 471.23,334.50 471.40,332.00 C471.57,329.50 471.15,327.17 470.90,325.00 C470.65,322.83 469.82,320.33 469.90,319.00 C469.98,317.67 471.15,317.33 471.40,317.00Z" fill="#d4d4d4" stroke="#000" stroke-width="2.6" stroke-linejoin="round"/>
<circle cx="471.5" cy="319.5" r="3.1" fill="#0000ff"/>
<circle cx="477.5" cy="318.0" r="3.1" fill="#0000ff"/>
<circle cx="481.0" cy="328.5" r="3.1" fill="#0000ff"/>
<circle cx="474.9" cy="333.5" r="3.1" fill="#0000ff"/>
<circle cx="469.0" cy="339.5" r="3.1" fill="#0000ff"/>
<circle cx="474.9" cy="345.0" r="3.1" fill="#0000ff"/>
<circle cx="468.5" cy="350.0" r="3.1" fill="#0000ff"/>
<circle cx="481.0" cy="349.0" r="3.1" fill="#0000ff"/>
<circle cx="481.0" cy="344.0" r="3.1" fill="#0000ff"/>
<line x1="469.9" y1="338.0" x2="479.9" y2="338.0" stroke="#000" stroke-width="2.0" />
<path d="M506.40,322.50 L512.40,322.50 C512.82,323.25 514.07,325.25 514.90,327.00 C515.73,328.75 517.40,331.00 517.40,333.00 C517.40,335.00 514.82,337.00 514.90,339.00 C514.98,341.00 517.73,343.00 517.90,345.00 C518.07,347.00 516.90,349.08 515.90,351.00 C514.90,352.92 512.57,355.58 511.90,356.50 L506.90,356.50 C506.23,355.58 503.90,352.92 502.90,351.00 C501.90,349.08 500.73,347.00 500.90,345.00 C501.07,343.00 503.82,341.00 503.90,339.00 C503.98,337.00 501.40,335.00 501.40,333.00 C501.40,331.00 503.07,328.75 503.90,327.00 C504.73,325.25 505.98,323.25 506.40,322.50Z" fill="#d4d4d4" stroke="#000" stroke-width="2.6" stroke-linejoin="round"/>
<circle cx="509.4" cy="323.5" r="3.1" fill="#0000ff"/>
<circle cx="503.0" cy="332.0" r="3.1" fill="#0000ff"/>
<circle cx="509.4" cy="331.0" r="3.1" fill="#0000ff"/>
<circle cx="516.0" cy="333.0" r="3.1" fill="#0000ff"/>
<circle cx="509.4" cy="337.5" r="3.1" fill="#0000ff"/>
<circle cx="503.0" cy="343.5" r="3.1" fill="#0000ff"/>
<circle cx="516.0" cy="344.5" r="3.1" fill="#0000ff"/>
<circle cx="509.4" cy="348.0" r="3.1" fill="#0000ff"/>
<circle cx="509.4" cy="355.0" r="3.1" fill="#0000ff"/>
<line x1="503.4" y1="339.5" x2="515.4" y2="339.5" stroke="#000" stroke-width="2.0" />
<path d="M537.20,307.50 L551.20,307.50 C551.45,308.08 552.95,309.75 552.70,311.00 C552.45,312.25 550.70,313.33 549.70,315.00 C548.70,316.67 546.78,319.00 546.70,321.00 C546.62,323.00 548.37,325.33 549.20,327.00 C550.03,328.67 551.70,329.87 551.70,331.00 C551.70,332.13 549.62,333.33 549.20,333.80 L539.20,333.80 C538.78,333.33 536.70,332.13 536.70,331.00 C536.70,329.87 538.37,328.67 539.20,327.00 C540.03,325.33 541.78,323.00 541.70,321.00 C541.62,319.00 539.70,316.67 538.70,315.00 C537.70,313.33 535.95,312.25 535.70,311.00 C535.45,309.75 536.95,308.08 537.20,307.50Z" fill="#d4d4d4" stroke="#000" stroke-width="2.6" stroke-linejoin="round"/>
<circle cx="537.5" cy="310.0" r="3.1" fill="#0000ff"/>
<circle cx="544.2" cy="311.0" r="3.1" fill="#0000ff"/>
<circle cx="550.8" cy="307.8" r="3.1" fill="#0000ff"/>
<circle cx="537.5" cy="314.0" r="3.1" fill="#0000ff"/>
<circle cx="550.8" cy="312.5" r="3.1" fill="#0000ff"/>
<circle cx="544.2" cy="320.5" r="3.1" fill="#0000ff"/>
<circle cx="544.2" cy="327.5" r="3.1" fill="#0000ff"/>
<circle cx="538.0" cy="332.5" r="3.1" fill="#0000ff"/>
<circle cx="550.5" cy="330.5" r="3.1" fill="#0000ff"/>
<line x1="538.7" y1="316.0" x2="549.7" y2="316.0" stroke="#000" stroke-width="2.0" />
<path d="M576.30,287.00 L581.30,287.00 C581.72,287.67 582.88,289.67 583.80,291.00 C584.72,292.33 586.55,293.67 586.80,295.00 C587.05,296.33 585.22,297.67 585.30,299.00 C585.38,300.33 587.22,301.67 587.30,303.00 C587.38,304.33 586.72,305.92 585.80,307.00 C584.88,308.08 582.47,309.08 581.80,309.50 L575.80,309.50 C575.13,309.08 572.72,308.08 571.80,307.00 C570.88,305.92 570.22,304.33 570.30,303.00 C570.38,301.67 572.22,300.33 572.30,299.00 C572.38,297.67 570.55,296.33 570.80,295.00 C571.05,293.67 572.88,292.33 573.80,291.00 C574.72,289.67 575.88,287.67 576.30,287.00Z" fill="#d4d4d4" stroke="#000" stroke-width="2.6" stroke-linejoin="round"/>
<circle cx="580.8" cy="288.0" r="3.1" fill="#0000ff"/>
<circle cx="578.8" cy="292.5" r="3.1" fill="#0000ff"/>
<circle cx="572.5" cy="296.5" r="3.1" fill="#0000ff"/>
<circle cx="584.0" cy="296.0" r="3.1" fill="#0000ff"/>
<circle cx="578.8" cy="302.0" r="3.1" fill="#0000ff"/>
<circle cx="572.5" cy="303.0" r="3.1" fill="#0000ff"/>
<circle cx="585.5" cy="304.0" r="3.1" fill="#0000ff"/>
<circle cx="573.5" cy="308.0" r="3.1" fill="#0000ff"/>
<circle cx="580.0" cy="306.0" r="3.1" fill="#0000ff"/>
<line x1="571.8" y1="301.0" x2="585.8" y2="301.0" stroke="#000" stroke-width="2.0" />
<path d="M605.80,282.00 L621.80,282.00 C621.97,282.50 622.97,283.83 622.80,285.00 C622.63,286.17 621.88,287.50 620.80,289.00 C619.72,290.50 617.22,292.17 616.30,294.00 C615.38,295.83 615.55,298.42 615.30,300.00 C615.05,301.58 614.88,302.92 614.80,303.50 L612.80,303.50 C612.72,302.92 612.55,301.58 612.30,300.00 C612.05,298.42 612.22,295.83 611.30,294.00 C610.38,292.17 607.88,290.50 606.80,289.00 C605.72,287.50 604.97,286.17 604.80,285.00 C604.63,283.83 605.63,282.50 605.80,282.00Z" fill="#d4d4d4" stroke="#000" stroke-width="2.6" stroke-linejoin="round"/>
<circle cx="607.0" cy="282.5" r="3.1" fill="#0000ff"/>
<circle cx="613.8" cy="283.0" r="3.1" fill="#0000ff"/>
<circle cx="620.0" cy="284.0" r="3.1" fill="#0000ff"/>
<circle cx="606.5" cy="287.0" r="3.1" fill="#0000ff"/>
<circle cx="620.0" cy="288.5" r="3.1" fill="#0000ff"/>
<circle cx="613.8" cy="289.5" r="3.1" fill="#0000ff"/>
<circle cx="613.8" cy="303.3" r="3.1" fill="#0000ff"/>
<line x1="606.3" y1="285.5" x2="621.3" y2="285.5" stroke="#000" stroke-width="2.0" />
</svg></body></html>
